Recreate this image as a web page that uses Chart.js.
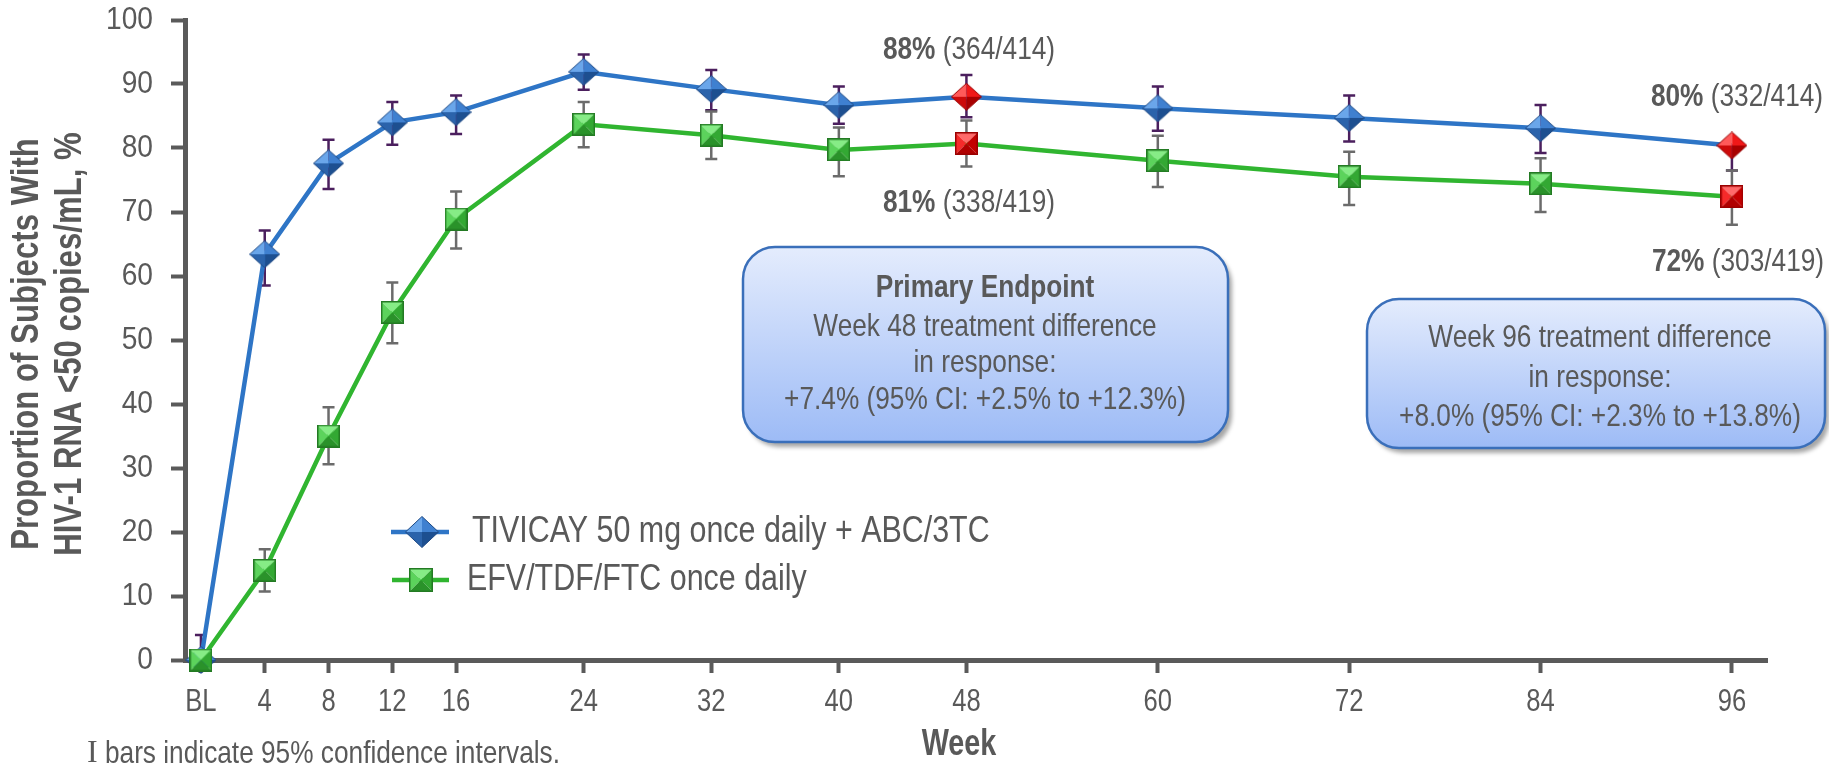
<!DOCTYPE html>
<html>
<head>
<meta charset="utf-8">
<script src="https://cdn.jsdelivr.net/npm/chart.js@4.4.1/dist/chart.umd.min.js"></script>
<style>
  body { margin: 0; background: #fff; }
  #wrap { width: 1829px; height: 774px; }
</style>
</head>
<body>
<div id="wrap"><canvas id="chart" width="1829" height="774"></canvas></div>
<script>
// weeks on study (BL = baseline)
const weeks = [0, 4, 8, 12, 16, 24, 32, 40, 48, 60, 72, 84, 96];
const xTickLabels = ['BL', '4', '8', '12', '16', '24', '32', '40', '48', '60', '72', '84', '96'];
const yTickValues = [0, 10, 20, 30, 40, 50, 60, 70, 80, 90, 100];

// % with HIV-1 RNA <50 copies/mL and 95% CI ends
const tivicay     = [0, 63.4, 77.6, 84.0, 85.6, 91.9, 89.2, 86.7, 88.0, 86.2, 84.7, 83.1, 80.4];
const tivicayLow  = [0, 58.5, 73.6, 80.5, 82.2, 89.1, 85.9, 83.8, 84.8, 82.7, 81.0, 79.2, 76.5];
const tivicayHigh = [3.9, 67.1, 81.3, 87.2, 88.2, 94.6, 92.2, 89.6, 91.4, 89.6, 88.2, 86.7, 80.4];
const efv     = [0, 14.0, 35.0, 54.3, 68.9, 83.7, 82.0, 79.7, 80.7, 78.0, 75.5, 74.4, 72.4];
const efvLow  = [0, 10.7, 30.6, 49.5, 64.3, 80.1, 78.3, 75.6, 77.1, 73.9, 71.1, 70.0, 68.0];
const efvHigh = [0, 17.3, 39.5, 59.0, 73.2, 87.2, 85.7, 83.2, 84.3, 81.9, 79.4, 78.4, 76.5];

const highlightWeeks = [48, 96];
const seriesNames = ['TIVICAY 50 mg once daily + ABC/3TC', 'EFV/TDF/FTC once daily'];

const GRAY = '#595959';
const FONT = '"Liberation Sans", Arial, sans-serif';

// little 3D-looking markers, drawn once into offscreen canvases
function facet(g, pts, color) {
    g.beginPath();
    g.moveTo(pts[0][0], pts[0][1]);
    for (let i = 1; i < pts.length; i++) g.lineTo(pts[i][0], pts[i][1]);
    g.closePath();
    g.fillStyle = color;
    g.fill();
}

function makeDiamond(w, h, c) {
    const cv = document.createElement('canvas');
    cv.width = w; cv.height = h;
    const g = cv.getContext('2d');
    const cx = w / 2, cy = h / 2;
    const T = [cx, 0.5], R = [w - 0.5, cy], B = [cx, h - 0.5], L = [0.5, cy], C = [cx, cy];
    facet(g, [L, T, C], c[0]);
    facet(g, [T, R, C], c[1]);
    facet(g, [R, B, C], c[2]);
    facet(g, [B, L, C], c[3]);
    g.beginPath();
    g.moveTo(T[0], T[1]); g.lineTo(R[0], R[1]); g.lineTo(B[0], B[1]); g.lineTo(L[0], L[1]); g.closePath();
    g.strokeStyle = c[4]; g.lineWidth = 1; g.stroke();
    return cv;
}

function makeSquare(s, c) {
    const cv = document.createElement('canvas');
    cv.width = s; cv.height = s;
    const g = cv.getContext('2d');
    const a = 0.5, b = s - 0.5, m = s / 2;
    facet(g, [[a, a], [b, a], [m, m]], c[0]);
    facet(g, [[a, a], [a, b], [m, m]], c[1]);
    facet(g, [[b, a], [b, b], [m, m]], c[2]);
    facet(g, [[a, b], [b, b], [m, m]], c[3]);
    g.strokeStyle = c[4]; g.lineWidth = 1.5;
    g.strokeRect(0.75, 0.75, s - 1.5, s - 1.5);
    return cv;
}

const blueCols = ['#6aa6ea', '#3f80d0', '#1d4f90', '#2b63ab', '#1e4a85'];
const redCols = ['#ff5a5a', '#f01818', '#a80000', '#cc0a0a', '#9a0000'];
const greenCols = ['#86ec86', '#5cd35c', '#33a833', '#2a922a', '#237a23'];
const redSqCols = ['#ff6a6a', '#f52a2a', '#c40000', '#b00000', '#9a0000'];

const blueDiamond = makeDiamond(31, 28, blueCols);
const redDiamond = makeDiamond(31, 28, redCols);
const greenSquare = makeSquare(23, greenCols);
const redSquare = makeSquare(23, redSqCols);
const legendDiamond = makeDiamond(34, 32, blueCols);
const legendSquare = makeSquare(24, greenCols);

function txt(ctx, s, x, y, o) {
    ctx.save();
    ctx.font = (o.bold ? 'bold ' : '') + o.size + 'px ' + (o.family || FONT);
    ctx.fillStyle = o.color || GRAY;
    ctx.textBaseline = 'middle';
    ctx.translate(x, y);
    if (o.rot) ctx.rotate(o.rot);
    ctx.scale(o.sx || 1, 1);
    const w = ctx.measureText(s).width;
    let dx = 0;
    if (o.align === 'center') dx = -w / 2;
    if (o.align === 'right') dx = -w;
    ctx.fillText(s, dx, 0);
    ctx.restore();
    return w * (o.sx || 1);
}

function textWidth(ctx, s, o) {
    ctx.save();
    ctx.font = (o.bold ? 'bold ' : '') + o.size + 'px ' + (o.family || FONT);
    const w = ctx.measureText(s).width * (o.sx || 1);
    ctx.restore();
    return w;
}

// parts: [[text, bold], ...] centred on x
function mixed(ctx, parts, x, y, size, sx) {
    let total = 0;
    parts.forEach(p => total += textWidth(ctx, p[0], { size: size, bold: p[1], sx: sx }));
    let cx = x - total / 2;
    parts.forEach(p => {
        cx += txt(ctx, p[0], cx, y, { size: size, bold: p[1], sx: sx });
    });
}

function roundBox(ctx, x, y, w, h, r) {
    ctx.save();
    ctx.beginPath();
    ctx.moveTo(x + r, y);
    ctx.lineTo(x + w - r, y);
    ctx.arcTo(x + w, y, x + w, y + r, r);
    ctx.lineTo(x + w, y + h - r);
    ctx.arcTo(x + w, y + h, x + w - r, y + h, r);
    ctx.lineTo(x + r, y + h);
    ctx.arcTo(x, y + h, x, y + h - r, r);
    ctx.lineTo(x, y + r);
    ctx.arcTo(x, y, x + r, y, r);
    ctx.closePath();
    const grad = ctx.createLinearGradient(0, y, 0, y + h);
    grad.addColorStop(0, '#e4ecfd');
    grad.addColorStop(1, '#9dbbf6');
    ctx.shadowColor = 'rgba(0,0,0,0.35)';
    ctx.shadowOffsetX = 4;
    ctx.shadowOffsetY = 5;
    ctx.shadowBlur = 4;
    ctx.fillStyle = grad;
    ctx.fill();
    ctx.shadowColor = 'transparent';
    ctx.strokeStyle = '#3a6fba';
    ctx.lineWidth = 2.5;
    ctx.stroke();
    ctx.restore();
}

const errorBars = {
    id: 'errorBars',
    beforeDatasetsDraw(chart) {
        const ctx = chart.ctx;
        const xs = chart.scales.x, ys = chart.scales.y;
        const sets = [
            { low: tivicayLow, high: tivicayHigh, color: '#4b1f5e' },
            { low: efvLow, high: efvHigh, color: '#6b6b6b' }
        ];
        ctx.save();
        ctx.lineWidth = 2.5;
        sets.forEach(s => {
            ctx.strokeStyle = s.color;
            weeks.forEach((w, i) => {
                if (s.low[i] === s.high[i]) return;
                const x = xs.getPixelForValue(w);
                const y1 = ys.getPixelForValue(s.low[i]);
                const y2 = ys.getPixelForValue(s.high[i]);
                ctx.beginPath();
                ctx.moveTo(x, y1); ctx.lineTo(x, y2);
                ctx.moveTo(x - 6, y1); ctx.lineTo(x + 6, y1);
                ctx.moveTo(x - 6, y2); ctx.lineTo(x + 6, y2);
                ctx.stroke();
            });
        });
        ctx.restore();
    }
};

const decor = {
    id: 'decor',
    afterDraw(chart) {
        const ctx = chart.ctx;
        const xs = chart.scales.x, ys = chart.scales.y;

        // tick labels
        yTickValues.forEach(v => {
            txt(ctx, String(v), 153, ys.getPixelForValue(v), { size: 32, sx: 0.88, align: 'right' });
        });
        weeks.forEach((w, i) => {
            txt(ctx, xTickLabels[i], xs.getPixelForValue(w), 702, { size: 32, sx: 0.8, align: 'center' });
        });

        // axis titles
        txt(ctx, 'Proportion of Subjects With', 28, 344, { size: 38, bold: true, sx: 0.82, align: 'center', rot: -Math.PI / 2 });
        txt(ctx, 'HIV-1 RNA <50 copies/mL, %', 71, 344, { size: 38, bold: true, sx: 0.82, align: 'center', rot: -Math.PI / 2 });
        txt(ctx, 'Week', 959, 745, { size: 36, bold: true, sx: 0.8, align: 'center' });

        // footnote
        const iw = txt(ctx, 'I', 87, 754, { size: 32, family: '"Liberation Serif", serif' });
        txt(ctx, ' bars indicate 95% confidence intervals.', 87 + iw, 754, { size: 32, sx: 0.82 });

        // value call-outs
        mixed(ctx, [['88%', true], [' (364/414)', false]], 969, 50, 32, 0.82);
        mixed(ctx, [['81%', true], [' (338/419)', false]], 969, 203, 32, 0.82);
        mixed(ctx, [['80%', true], [' (332/414)', false]], 1737, 97, 32, 0.82);
        mixed(ctx, [['72%', true], [' (303/419)', false]], 1738, 262, 32, 0.82);

        // treatment difference boxes
        roundBox(ctx, 743, 247, 485, 195, 32);
        txt(ctx, 'Primary Endpoint', 985, 288, { size: 32, bold: true, sx: 0.82, align: 'center' });
        txt(ctx, 'Week 48 treatment difference', 985, 327, { size: 32, sx: 0.82, align: 'center' });
        txt(ctx, 'in response:', 985, 363, { size: 32, sx: 0.82, align: 'center' });
        txt(ctx, '+7.4% (95% CI: +2.5% to +12.3%)', 985, 400, { size: 32, sx: 0.82, align: 'center' });

        roundBox(ctx, 1367, 299, 458, 149, 32);
        txt(ctx, 'Week 96 treatment difference', 1600, 338, { size: 32, sx: 0.82, align: 'center' });
        txt(ctx, 'in response:', 1600, 378, { size: 32, sx: 0.82, align: 'center' });
        txt(ctx, '+8.0% (95% CI: +2.3% to +13.8%)', 1600, 417, { size: 32, sx: 0.82, align: 'center' });

        // legend
        ctx.save();
        ctx.lineWidth = 4.5;
        ctx.strokeStyle = '#2e75c6';
        ctx.beginPath(); ctx.moveTo(391, 532); ctx.lineTo(449, 532); ctx.stroke();
        ctx.strokeStyle = '#30b530';
        ctx.beginPath(); ctx.moveTo(392, 580); ctx.lineTo(449, 580); ctx.stroke();
        ctx.drawImage(legendDiamond, 422 - 17, 532 - 16);
        ctx.drawImage(legendSquare, 421 - 12, 580 - 12);
        ctx.restore();
        txt(ctx, seriesNames[0], 472, 532, { size: 36, sx: 0.845 });
        txt(ctx, seriesNames[1], 467, 580, { size: 36, sx: 0.845 });
    }
};

function pts(vals) {
    return weeks.map((w, i) => ({ x: w, y: vals[i] }));
}

const ctx = document.getElementById('chart').getContext('2d');
const chart = new Chart(ctx, {
    type: 'line',
    data: {
        datasets: [{
            label: seriesNames[0],
            data: pts(tivicay),
            borderColor: '#2e75c6',
            borderWidth: 4.5,
            pointRadius: 14,
            pointStyle: c => highlightWeeks.includes(weeks[c.dataIndex]) ? redDiamond : blueDiamond,
            order: 1,
            clip: false
        }, {
            label: seriesNames[1],
            data: pts(efv),
            borderColor: '#30b530',
            borderWidth: 4.5,
            pointRadius: 12,
            pointStyle: c => highlightWeeks.includes(weeks[c.dataIndex]) ? redSquare : greenSquare,
            order: 0,
            clip: false
        }]
    },
    options: {
        responsive: false,
        animation: false,
        events: [],
        layout: { padding: { left: 0, right: 62, top: 20, bottom: 0 } },
        plugins: { legend: { display: false }, tooltip: { enabled: false } },
        scales: {
            x: {
                type: 'linear',
                min: -1.0,
                max: 98.2,
                afterBuildTicks: s => { s.ticks = weeks.map(v => ({ value: v })); },
                afterFit: s => { s.height = 114; },
                ticks: { display: false },
                grid: { drawOnChartArea: false, tickLength: 13, tickWidth: 4, tickColor: '#5a5a5a' },
                border: { display: true, width: 5, color: '#5a5a5a' }
            },
            y: {
                min: 0,
                max: 100,
                afterBuildTicks: s => { s.ticks = yTickValues.map(v => ({ value: v })); },
                afterFit: s => { s.width = 185; },
                ticks: { display: false },
                grid: { drawOnChartArea: false, tickLength: 14, tickWidth: 4, tickColor: '#5a5a5a' },
                border: { display: true, width: 5, color: '#5a5a5a' }
            }
        }
    },
    plugins: [errorBars, decor]
});
</script>
</body>
</html>
